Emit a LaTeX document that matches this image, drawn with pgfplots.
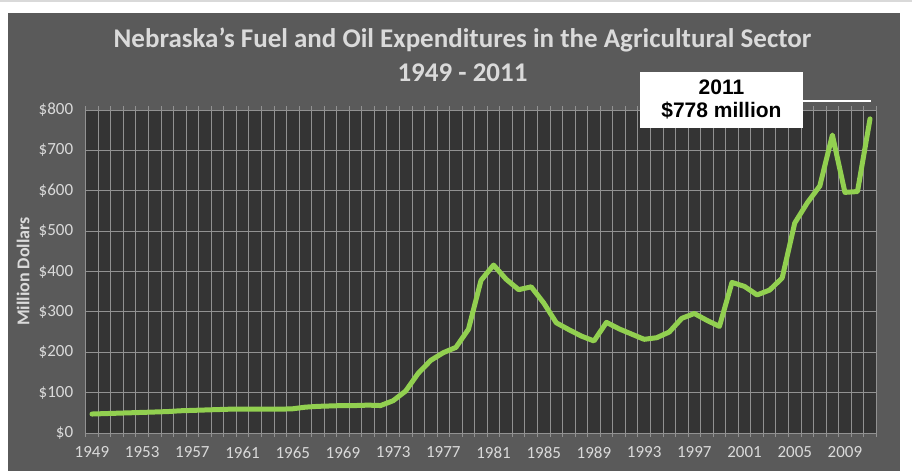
\documentclass[border=0pt]{standalone}
\usepackage{fontspec}
\setmainfont{Carlito}
\newfontfamily\arialfont{Liberation Sans}
\usepackage{pgfplots}
\pgfplotsset{compat=1.18}
\usepackage{pgfplotstable}
\definecolor{panel}{HTML}{5A5A5A}
\definecolor{plotbg}{HTML}{343434}
\definecolor{gridc}{HTML}{929292}
\definecolor{txt}{HTML}{DADADA}
\definecolor{lgreen}{HTML}{92D050}

\pgfplotstableread{
year value
1949 47
1950 48
1951 49
1952 50
1953 51
1954 52
1955 53
1956 55
1957 56
1958 57
1959 58
1960 59
1961 59
1962 59
1963 59
1964 59
1965 60
1966 64
1967 66
1968 67
1969 68
1970 68
1971 69
1972 68
1973 80
1974 104
1975 148
1976 180
1977 199
1978 212
1979 257
1980 378
1981 416
1982 381
1983 355
1984 362
1985 322
1986 273
1987 256
1988 240
1989 228
1990 274
1991 258
1992 245
1993 232
1994 236
1995 250
1996 284
1997 296
1998 279
1999 264
2000 373
2001 363
2002 342
2003 354
2004 384
2005 520
2006 570
2007 612
2008 738
2009 596
2010 598
2011 778
}\fuel

\begin{document}
\begin{tikzpicture}
% page background and grey panel (1px = 1pt; axis box south west at px (85.7,433))
\fill[white] (-85.7pt,-38pt) rectangle (826.3pt,433pt);
\fill[gray!30] (-85.7pt,431pt) rectangle (826.3pt,433pt);
\fill[panel] (-77.7pt,-38pt) rectangle (814.3pt,420pt);
\begin{axis}[
  scale only axis,
  width=790.6pt, height=323pt,
  at={(0,0)}, anchor=south west,
  xmin=1948.5, xmax=2011.5,
  ymin=0, ymax=800,
  axis background/.style={fill=plotbg},
  axis line style={draw=none},
  xtick={1949,1953,...,2009},
  xticklabels={1949,1953,1957,1961,1965,1969,1973,1977,1981,1985,1989,1993,1997,2001,2005,2009},
  minor xtick={1948.5,1949.5,...,2011.6},
  ytick={0,100,...,800},
  yticklabels={\$0,\$100,\$200,\$300,\$400,\$500,\$600,\$700,\$800},
  xminorgrids=true, xmajorgrids=false, ymajorgrids=true,
  minor grid style={gridc, line width=0.8pt},
  major grid style={gridc, line width=0.8pt},
  tick align=outside,
  major tick length=0pt,
  minor tick length=4pt,
  minor tick style={gridc, line width=0.8pt},
  tick label style={font=\fontsize{17}{19}\selectfont, text=txt},
  xticklabel style={yshift=-10pt},
  yticklabel style={xshift=-9pt},
  /pgf/number format/assume math mode=true,
  ylabel={\bfseries Million Dollars},
  ylabel style={font=\fontsize{18}{20}\selectfont, text=txt, at={(axis description cs:-0.0793,0.5)}, anchor=center},
  clip=false,
]
\addplot[lgreen, line width=5pt, line join=round, line cap=round] table[x=year, y=value] {\fuel};
% annotation
\draw[white, line width=2pt] (axis cs:2005.6,822) -- (axis cs:2011.1,822);
\node[fill=white, minimum width=163pt, minimum height=56pt, inner sep=0pt, align=center,
      font=\arialfont\bfseries\fontsize{21}{23.5}\selectfont, text=black]
  at (axis cs:1999.16,826) {2011\\\$778 million};
\end{axis}
\node[text=txt, font=\bfseries\fontsize{27}{30}\selectfont] at (376.8pt,393pt) {Nebraska's Fuel and Oil Expenditures in the Agricultural Sector};
\node[text=txt, font=\bfseries\fontsize{27}{30}\selectfont] at (376.8pt,360pt) {1949 - 2011};
\pgfresetboundingbox
\path (-85.7pt,-38pt) rectangle (826.3pt,433pt);
\end{tikzpicture}
\end{document}
